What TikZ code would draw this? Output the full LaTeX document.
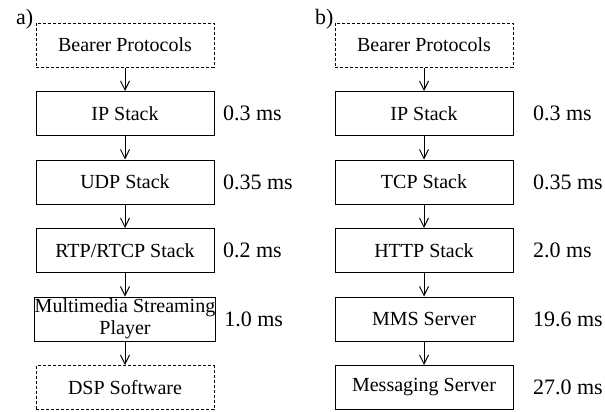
\documentclass[tikz,border=0pt]{standalone}
\usepackage{fontspec}
\setmainfont{Liberation Serif}
\usetikzlibrary{arrows.meta, positioning}

\begin{document}
\begin{tikzpicture}[x=0.5pt, y=-0.5pt]
    \useasboundingbox (0,0) rectangle (605,412);
    \begin{scope}[every node/.style = {font=\fontsize{10}{11}\selectfont}, line width=0.5pt,
        layer/.style = {draw, minimum width=89pt, minimum height=22pt, inner sep=0pt, align=center},
        extlayer/.style = {layer, dash pattern=on 1.5pt off 1pt},
        delay/.style = {anchor=west, inner sep=0pt, font=\fontsize{11}{13}\selectfont},
        flow/.style = {-{Straight Barb[length=4.5pt, width=4.5pt]}}]
        % a) RTP streaming
        \node[anchor=base west, font=\fontsize{11}{13}\selectfont] (Ta) at (9,25) {a)};
        \node[extlayer] (A1) at (125,45) {Bearer Protocols};
        \foreach \n/\txt/\ms in {2/IP Stack/0.3, 3/UDP Stack/0.35, 4/{RTP/RTCP Stack}/0.2, 5/{Multimedia Streaming\\Player}/1.0}{
            \node[layer] (A\n) at (125,{45+(\n-1)*68.5}) {\txt};
            \node[delay] (DA\n) at ([xshift=4pt]A\n.east) {\ms~ms};
        }
        \node[extlayer] (A6) at (125,387.5) {DSP Software};
        % b) MMS messaging
        \node[anchor=base west, font=\fontsize{11}{13}\selectfont] (Tb) at (308,25) {b)};
        \node[extlayer] (B1) at (424,45) {Bearer Protocols};
        \foreach \n/\txt/\ms in {2/IP Stack/0.3, 3/TCP Stack/0.35, 4/HTTP Stack/2.0, 5/MMS Server/19.6, 6/Messaging Server/27.0}{
            \node[layer] (B\n) at (424,{45+(\n-1)*68.5}) {\txt};
            \node[delay] (DB\n) at ([xshift=9.5pt]B\n.east) {\ms~ms};
        }
        \foreach \n in {1,...,5}{
            \pgfmathtruncatemacro\m{\n+1}
            \draw[flow] (A\n) -- (A\m);
            \draw[flow] (B\n) -- (B\m);
        }
    \end{scope}
\end{tikzpicture}
\end{document}
